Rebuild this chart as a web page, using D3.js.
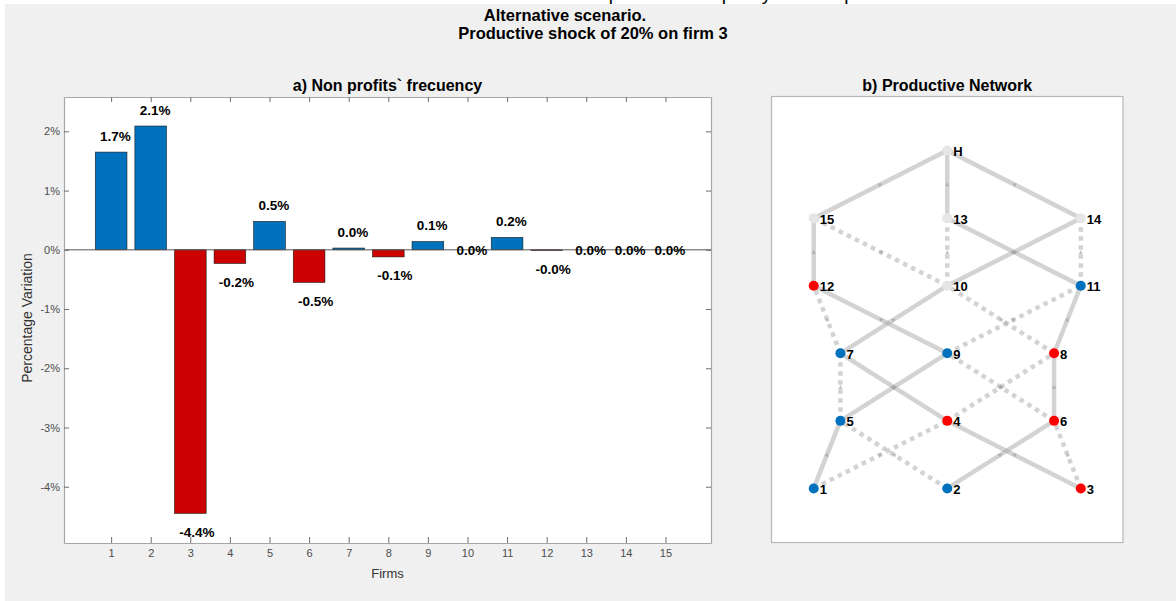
<!DOCTYPE html>
<html>
<head>
<meta charset="utf-8">
<script src="https://cdn.jsdelivr.net/npm/d3@7"></script>
<style>
  html, body { margin: 0; padding: 0; background: #ffffff; }
  svg { display: block; }
  text { font-family: "Liberation Sans", Arial, Helvetica, sans-serif; }
</style>
</head>
<body>
<svg id="chart" width="1176" height="601"></svg>
<script>
// ---------------- DATA ----------------
const firms = [1, 2, 3, 4, 5, 6, 7, 8, 9, 10, 11, 12, 13, 14, 15];
const variation = [1.65, 2.09, -4.45, -0.23, 0.48, -0.55, 0.03, -0.12, 0.14, 0.0, 0.21, -0.01, 0.0, 0.0, 0.0];
const barLabels = ["1.7%", "2.1%", "-4.4%", "-0.2%", "0.5%", "-0.5%", "0.0%", "-0.1%", "0.1%", "0.0%", "0.2%", "-0.0%", "0.0%", "0.0%", "0.0%"];
const yTicks = [-4, -3, -2, -1, 0, 1, 2];
const yTickLabels = ["-4%", "-3%", "-2%", "-1%", "0%", "1%", "2%"];

const nodeIds   = ["1", "2", "3", "5", "4", "6", "7", "9", "8", "12", "10", "11", "15", "13", "14", "H"];
const nodeX     = [0, 1, 2, 0.2, 1, 1.8, 0.2, 1, 1.8, 0, 1, 2, 0, 1, 2, 1];
const nodeLevel = [0, 0, 0, 1, 1, 1, 2, 2, 2, 3, 3, 3, 4, 4, 4, 5];
const nodeState = ["up", "up", "down", "up", "down", "down", "up", "up", "down", "down", "neutral", "up", "neutral", "neutral", "neutral", "neutral"];
const solidEdges = [["15","H"],["13","H"],["14","H"],["12","15"],["11","13"],["10","14"],["9","12"],["7","10"],["8","11"],["4","7"],["5","9"],["6","8"],["1","5"],["3","4"],["2","6"]];
const dottedEdges = [["10","15"],["10","13"],["11","14"],["7","12"],["8","10"],["9","11"],["5","7"],["6","9"],["4","8"],["2","5"],["1","4"],["3","6"]];

// ---------------- SETUP ----------------
const svg = d3.select("#chart");
const BLUE = "#0072BD", RED = "#CC0000";

// figure background
svg.append("rect").attr("x", 5).attr("y", 4).attr("width", 1171).attr("height", 597).attr("fill", "#f0f0f0");

// cropped line of document text at the very top (only the glyph bottoms show)
svg.append("text").attr("x", 540).attr("y", 0)
  .attr("font-family", "Liberation Serif, DejaVu Serif, serif").attr("font-size", 19)
  .attr("fill", "#000").text("and the productive capacity of each pr");

// main title
svg.append("text").attr("x", 565).attr("y", 21).attr("text-anchor", "middle")
  .attr("font-size", 16.5).attr("font-weight", "bold").attr("fill", "#000").text("Alternative scenario.");
svg.append("text").attr("x", 593).attr("y", 39).attr("text-anchor", "middle")
  .attr("font-size", 16.5).attr("font-weight", "bold").attr("fill", "#000").text("Productive shock of 20% on firm 3");

// ---------------- LEFT: BAR CHART ----------------
const L = 64, R = 711, T = 97, B = 543;
const x = d3.scaleLinear().domain([-0.19, 16.15]).range([L, R]);
const y = d3.scaleLinear().domain([-4.95, 2.58]).range([B, T]);

const gA = svg.append("g");
gA.append("rect").attr("x", L).attr("y", T).attr("width", R - L).attr("height", B - T).attr("fill", "#fff");

// bars
const bw = x(0.8) - x(0);
gA.selectAll("rect.bar").data(firms).enter().append("rect").attr("class", "bar")
  .attr("x", (d) => x(d) - bw / 2)
  .attr("width", bw)
  .attr("y", (d, i) => Math.min(y(variation[i]), y(0)))
  .attr("height", (d, i) => Math.abs(y(variation[i]) - y(0)))
  .attr("fill", (d, i) => variation[i] >= 0 ? BLUE : RED)
  .attr("stroke", "#1a1a1a").attr("stroke-width", 0.6);

// baseline
gA.append("line").attr("x1", L).attr("x2", R).attr("y1", y(0)).attr("y2", y(0))
  .attr("stroke", "#555").attr("stroke-width", 1);

// value labels
gA.selectAll("text.val").data(firms).enter().append("text").attr("class", "val")
  .attr("x", (d) => x(d - 0.28))
  .attr("y", (d, i) => {
    const v = variation[i];
    const c = v > 0 ? y(v) - 16 : (v < 0 ? y(v) + 19 : y(0) + 1);
    return c + 4.5;
  })
  .attr("font-size", 13.5).attr("font-weight", "bold").attr("fill", "#000")
  .text((d, i) => barLabels[i]);

// axes
const axisColor = "#a6a6a6";
const tickColor = "#6e6e6e";
function styleAxis(g) {
  g.select(".domain").attr("stroke", axisColor).attr("stroke-width", 1.2);
  g.selectAll(".tick line").attr("stroke", tickColor);
  g.selectAll(".tick text").attr("fill", "#4d4d4d").attr("font-size", 11)
    .attr("font-family", "Liberation Sans, Arial, sans-serif");
}
gA.append("g").attr("transform", `translate(${L},0)`)
  .call(d3.axisLeft(y).tickValues(yTicks).tickFormat((d, i) => yTickLabels[i]).tickSizeInner(-5).tickSizeOuter(0).tickPadding(4))
  .call(styleAxis);
gA.append("g").attr("transform", `translate(${R},0)`)
  .call(d3.axisRight(y).tickValues(yTicks).tickFormat("").tickSizeInner(-5).tickSizeOuter(0))
  .call(styleAxis);
gA.append("g").attr("transform", `translate(0,${B})`)
  .call(d3.axisBottom(x).tickValues(firms).tickFormat(d3.format("d")).tickSizeInner(-6).tickSizeOuter(0).tickPadding(6))
  .call(styleAxis);
gA.append("g").attr("transform", `translate(0,${T})`)
  .call(d3.axisTop(x).tickValues(firms).tickFormat("").tickSizeInner(-5).tickSizeOuter(0))
  .call(styleAxis);

// axis titles
gA.append("text").attr("x", (L + R) / 2).attr("y", 578).attr("text-anchor", "middle")
  .attr("font-size", 13).attr("fill", "#333").text("Firms");
gA.append("text").attr("transform", `translate(32,${(T + B) / 2 - 2}) rotate(-90)`).attr("text-anchor", "middle")
  .attr("font-size", 14).attr("fill", "#333").text("Percentage Variation");
gA.append("text").attr("x", (L + R) / 2).attr("y", 91).attr("text-anchor", "middle")
  .attr("font-size", 16).attr("font-weight", "bold").attr("fill", "#000").text("a) Non profits` frecuency");

// ---------------- RIGHT: NETWORK ----------------
const NL = 771.5, NR = 1123, NT = 96.5, NB = 542.5;
const nx = d3.scaleLinear().domain([-0.316, 2.316]).range([NL, NR]);
const ny = d3.scaleLinear().domain([-0.8, 5.8]).range([NB, NT]);

const gB = svg.append("g");
gB.append("rect").attr("x", NL).attr("y", NT).attr("width", NR - NL).attr("height", NB - NT)
  .attr("fill", "#fff").attr("stroke", "#b8b8b8").attr("stroke-width", 1.2);
gB.append("text").attr("x", (NL + NR) / 2).attr("y", 91).attr("text-anchor", "middle")
  .attr("font-size", 16).attr("font-weight", "bold").attr("fill", "#000").text("b) Productive Network");

const nodes = nodeIds.map((id, i) => ({ id, px: nx(nodeX[i]), py: ny(nodeLevel[i]), state: nodeState[i] }));
const byId = Object.fromEntries(nodes.map((n) => [n.id, n]));
const edges = solidEdges.map((e) => ({ s: byId[e[0]], t: byId[e[1]], dotted: false }))
  .concat(dottedEdges.map((e) => ({ s: byId[e[0]], t: byId[e[1]], dotted: true })));

gB.selectAll("line.edge").data(edges).enter().append("line").attr("class", "edge")
  .attr("x1", (d) => d.s.px).attr("y1", (d) => d.s.py)
  .attr("x2", (d) => d.t.px).attr("y2", (d) => d.t.py)
  .attr("stroke", "#a8a8a8").attr("stroke-opacity", 0.5).attr("stroke-width", 4.5)
  .attr("stroke-dasharray", (d) => d.dotted ? "4.5,4.5" : null);

// small arrowheads at mid-edge
gB.selectAll("path.arrow").data(edges).enter().append("path").attr("class", "arrow")
  .attr("d", "M2,0 L-2,-2 L-2,2 Z")
  .attr("transform", (d) => {
    const mx = (d.s.px + d.t.px) / 2, my = (d.s.py + d.t.py) / 2;
    const ang = Math.atan2(d.t.py - d.s.py, d.t.px - d.s.px) * 180 / Math.PI;
    return `translate(${mx},${my}) rotate(${ang})`;
  })
  .attr("fill", "#9a9a9a").attr("fill-opacity", 0.6);

const nodeFill = { up: "#0072BD", down: "#FF0000", neutral: "#e6e6e6" };
gB.selectAll("circle.node").data(nodes).enter().append("circle").attr("class", "node")
  .attr("cx", (d) => d.px).attr("cy", (d) => d.py).attr("r", 5)
  .attr("fill", (d) => nodeFill[d.state]);
gB.selectAll("text.nlab").data(nodes).enter().append("text").attr("class", "nlab")
  .attr("x", (d) => d.px + 6).attr("y", (d) => d.py + 5.5)
  .attr("font-size", 13).attr("font-weight", "bold").attr("fill", "#000")
  .text((d) => d.id);
</script>
</body>
</html>
